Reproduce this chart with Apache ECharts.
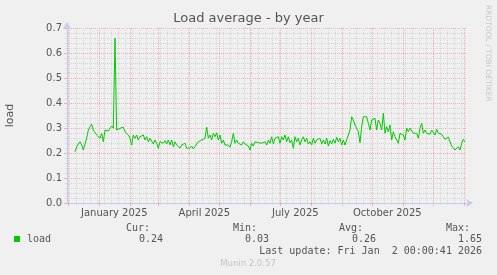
<!DOCTYPE html>
<html><head><meta charset="utf-8">
<script src="https://cdn.jsdelivr.net/npm/echarts@6/dist/echarts.min.js"></script>
<style>html,body{margin:0;padding:0;background:#f0f0f0;}#c{width:497px;height:275px;}</style>
</head><body><div id="c"></div>
<script>
// x axis unit: days since 2024-11-28 00:00 UTC
const ORIGIN = Date.UTC(2024, 10, 28);
const X_MIN = 1.7, X_MAX = 401.7;
const FIRST_DAY = 9.7, STEP_DAYS = 5 / 3;

const load = [
 0.205,0.224,0.236,0.245,0.232,0.212,0.236,0.259,0.292,0.305,
 0.315,0.292,0.299,0.272,0.279,0.259,0.279,0.245,0.292,0.285,
 0.288,0.285,0.308,0.299,0.659,0.292,0.285,0.299,0.292,0.303,
 0.285,0.292,0.272,0.259,0.232,0.272,0.259,0.272,0.252,0.265,
 0.259,0.272,0.252,0.265,0.245,0.259,0.252,0.236,0.252,0.239,
 0.219,0.245,0.252,0.239,0.249,0.236,0.252,0.232,0.252,0.225,
 0.245,0.232,0.239,0.219,0.232,0.225,0.239,0.219,0.225,0.219,
 0.228,0.216,0.225,0.236,0.245,0.239,0.252,0.245,0.259,0.303,
 0.259,0.272,0.252,0.279,0.265,0.281,0.252,0.272,0.239,0.252,
 0.232,0.225,0.232,0.223,0.245,0.279,0.239,0.252,0.239,0.245,
 0.232,0.245,0.236,0.239,0.228,0.212,0.239,0.228,0.245,0.239,
 0.241,
 0.245,0.239,0.236,0.245,0.232,0.252,0.239,0.265,0.236,0.259,
 0.252,0.265,0.239,0.265,0.252,0.272,0.245,0.265,0.241,0.252,
 0.219,0.265,0.245,0.259,0.232,0.252,0.265,0.245,0.259,0.236,
 0.245,0.232,0.259,0.239,0.252,0.245,0.259,0.236,0.252,0.236,
 0.259,0.228,0.249,0.236,0.255,0.239,0.263,0.245,0.259,0.232,
 0.252,0.232,0.252,0.272,
 0.292,0.345,0.332,0.312,0.305,0.285,0.241,0.305,0.345,0.339,
 0.345,0.319,0.292,0.332,0.325,0.339,0.292,0.332,
 0.319,0.292,0.359,0.279,0.305,0.285,0.312,0.252,0.285,0.265,
 0.272,0.239,0.279,0.272,0.272,0.252,0.299,0.285,0.299,0.299,
 0.279,0.285,0.279,0.259,0.299,0.319,0.279,0.292,0.279,0.283,
 0.275,0.292,0.285,0.272,0.295,0.279,0.285,0.275,0.279,0.255,
 0.259,0.263,0.255,0.228,0.232,0.212,0.215,0.225,0.212,0.239,
 0.255,0.245
];

const monthStarts = ['2024-12-01','2025-01-01','2025-02-01','2025-03-01','2025-04-01','2025-05-01',
  '2025-06-01','2025-07-01','2025-08-01','2025-09-01','2025-10-01','2025-11-01','2025-12-01','2026-01-01'];
const labelDates = ['2025-01-16','2025-04-16','2025-07-16','2025-10-16'];
const labelTexts = ['January 2025','April 2025','July 2025','October 2025'];
const firstMonday = '2024-12-02';

const yTicks = [0, 0.1, 0.2, 0.3, 0.4, 0.5, 0.6, 0.7];

const legendName = 'load';
const statNames = ['Cur:', 'Min:', 'Avg:', 'Max:'];
const statValues = ['0.24', '0.03', '0.26', '1.65'];
const lastUpdate = 'Last update: Fri Jan  2 00:00:41 2026';
const title = 'Load average - by year';
const yName = 'load';
const sideText = 'RRDTOOL / TOBI OETIKER';
const footer = 'Munin 2.0.57';

const toDay = s => (Date.parse(s + 'T00:00:00Z') - ORIGIN) / 864e5;
const monthDays = monthStarts.map(toDay);
const labelDays = labelDates.map(toDay);
const weekDays = [];
for (let d = toDay(firstMonday); d < X_MAX; d += 7) weekDays.push(d);

const seriesData = load.map((v, i) => [FIRST_DAY + i * STEP_DAYS, v]);

const RED = 'rgba(230,150,150,0.7)';
const GREY = '#d6d6d6';
const AXIS = '#c4caf2';
const TXT = '#555555';
const MONO = '"DejaVu Sans Mono", monospace';

function hiddenX(ticks, color, length, inside) {
  return {
    type: 'value', min: X_MIN, max: X_MAX, position: 'bottom',
    axisLine: { show: false }, axisLabel: { show: false }, splitLine: { show: false },
    axisTick: { show: true, inside: inside, length: length, customValues: ticks,
      lineStyle: { color: color, width: 1, type: inside ? [1, 1] : 'solid' } }
  };
}

const chart = echarts.init(document.getElementById('c'), null, { renderer: 'canvas' });
const statX = [150, 257, 363, 470];
const valX = [163, 269, 376, 482];
const graphics = [
  { type: 'text', left: 'center', top: 12, style: { text: title, font: '13px "DejaVu Sans"', fill: TXT } },
  { type: 'text', x: 488, y: 5, rotation: -Math.PI / 2, style: { text: sideText, font: '7.5px "DejaVu Sans"', fill: '#c8c8c8', textAlign: 'left', textVerticalAlign: 'middle' } },
  { type: 'rect', shape: { x: 14, y: 236, width: 6, height: 6 }, style: { fill: '#00cc00' } },
  { type: 'text', x: 27, y: 239, style: { text: legendName, font: '10px ' + MONO, fill: TXT, textVerticalAlign: 'middle' } },
  { type: 'text', x: 482, y: 251, style: { text: lastUpdate, font: '10px ' + MONO, fill: TXT, textAlign: 'right', textVerticalAlign: 'middle' } },
  { type: 'text', x: 248, y: 264, style: { text: footer, font: '8.5px "DejaVu Sans"', fill: '#c4c4c4', textAlign: 'center', textVerticalAlign: 'middle' } }
];
statNames.forEach((n, i) => {
  graphics.push({ type: 'text', x: statX[i], y: 228, style: { text: n, font: '10px ' + MONO, fill: TXT, textAlign: 'right', textVerticalAlign: 'middle' } });
  graphics.push({ type: 'text', x: valX[i], y: 239, style: { text: statValues[i], font: '10px ' + MONO, fill: TXT, textAlign: 'right', textVerticalAlign: 'middle' } });
});

chart.setOption({
  animation: false,
  backgroundColor: '#f0f0f0',
  grid: { left: 67, top: 28, width: 400, height: 175, containLabel: false, outerBoundsMode: 'none' },
  xAxis: [
    {
      type: 'value', min: X_MIN, max: X_MAX, position: 'bottom',
      axisLine: { show: true, lineStyle: { color: AXIS, width: 1 }, symbol: ['none', 'arrow'], symbolSize: [6, 7], symbolOffset: [0, 6] },
      axisTick: { show: true, length: 3, customValues: monthDays, lineStyle: { color: RED } },
      axisLabel: {
        show: true, customValues: labelDays, color: TXT, fontSize: 10, fontFamily: 'DejaVu Sans', margin: 5,
        formatter: v => {
          let best = 0;
          labelDays.forEach((d, i) => { if (Math.abs(d - v) < Math.abs(labelDays[best] - v)) best = i; });
          return labelTexts[best];
        }
      },
      splitLine: { show: false }
    },
    hiddenX(weekDays, GREY, 175, true),
    hiddenX(monthDays, RED, 175, true),
    hiddenX(weekDays, '#d8d8e8', 2, false)
  ],
  yAxis: {
    type: 'value', min: yTicks[0], max: yTicks[yTicks.length - 1], interval: 0.1,
    name: yName, nameLocation: 'middle', nameGap: 51, nameRotate: 90,
    nameTextStyle: { color: TXT, fontSize: 11, fontFamily: 'DejaVu Sans' },
    axisLine: { show: true, lineStyle: { color: AXIS, width: 1 }, symbol: ['none', 'arrow'], symbolSize: [6, 7], symbolOffset: [0, 6] },
    axisTick: { show: true, length: 3, lineStyle: { color: RED } },
    minorTick: { show: true, splitNumber: 5, length: 2, lineStyle: { color: '#d8d8e8' } },
    axisLabel: { color: TXT, fontSize: 10, fontFamily: 'DejaVu Sans', margin: 5, formatter: v => v.toFixed(1) },
    splitLine: { show: true, lineStyle: { color: RED, type: [1, 1], width: 1 } },
    minorSplitLine: { show: true, lineStyle: { color: GREY, type: [1, 1], width: 1 } }
  },
  series: [{
    type: 'line', xAxisIndex: 0, data: seriesData, symbol: 'none', z: 5,
    lineStyle: { color: '#00cc00', width: 1 }
  }],
  graphic: graphics
});
</script>
</body></html>
